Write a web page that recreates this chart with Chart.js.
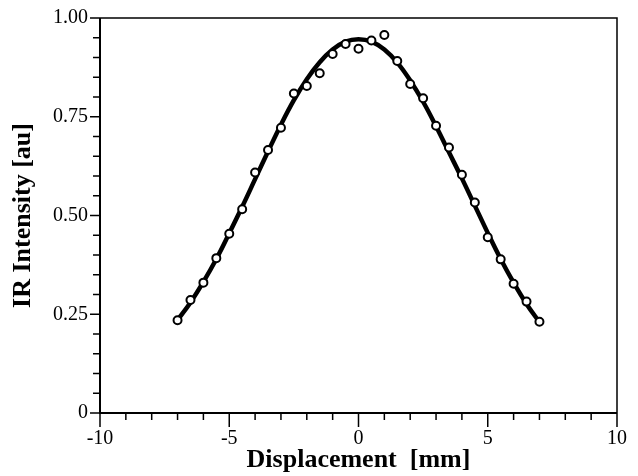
<!DOCTYPE html>
<html>
<head>
<meta charset="utf-8">
<script src="https://cdn.jsdelivr.net/npm/chart.js@4"></script>
<style>
  html, body { margin: 0; padding: 0; background: #fff; }
  canvas { display: block; }
</style>
</head>
<body>
<canvas id="chart" width="638" height="476"></canvas>
<script>
// measured points (open circles)
const displacement = [-7, -6.5, -6, -5.5, -5, -4.5, -4, -3.5, -3, -2.5, -2, -1.5, -1, -0.5, 0,
  0.5, 1, 1.5, 2, 2.5, 3, 3.5, 4, 4.5, 5, 5.5, 6, 6.5, 7];
const intensity = [0.235, 0.286, 0.330, 0.392, 0.454, 0.516, 0.609, 0.666, 0.722, 0.809, 0.828,
  0.860, 0.909, 0.934, 0.922, 0.943, 0.957, 0.891, 0.833, 0.797, 0.727, 0.672, 0.603, 0.533,
  0.445, 0.389, 0.327, 0.282, 0.231];

// fitted curve (thick line)
const fitX = displacement;
const fitY = [0.235, 0.280, 0.332, 0.390, 0.455, 0.522, 0.592, 0.662, 0.730, 0.792, 0.845,
  0.888, 0.920, 0.940, 0.946, 0.940, 0.920, 0.887, 0.842, 0.788, 0.726, 0.660, 0.594, 0.525,
  0.456, 0.390, 0.330, 0.276, 0.230];

const xTicks = [-10, -5, 0, 5, 10];
const yTicks = [0, 0.25, 0.5, 0.75, 1.0];

const points = displacement.map((x, i) => ({ x: x, y: intensity[i] }));
const fit = fitX.map((x, i) => ({ x: x, y: fitY[i] }));

// ticks outward + top/right frame
const frameTicks = {
  id: "frameTicks",
  afterDraw(chart) {
    const ctx = chart.ctx;
    const a = chart.chartArea;
    const xs = chart.scales.x;
    const ys = chart.scales.y;
    ctx.save();
    ctx.strokeStyle = "#000";
    ctx.lineWidth = 1.5;
    ctx.beginPath();
    ctx.moveTo(a.left, a.top);
    ctx.lineTo(a.right, a.top);
    ctx.lineTo(a.right, a.bottom);
    ctx.stroke();
    ctx.lineWidth = 2;
    ctx.beginPath();
    ctx.moveTo(a.left, a.top);
    ctx.lineTo(a.left, a.bottom);
    ctx.lineTo(a.right, a.bottom);
    ctx.stroke();
    ctx.lineWidth = 1.5;
    ctx.beginPath();
    xs.ticks.forEach(t => {
      const px = xs.getPixelForValue(t.value);
      const len = xTicks.includes(t.value) ? 14 : 7;
      ctx.moveTo(px, a.bottom);
      ctx.lineTo(px, a.bottom + len);
    });
    ys.ticks.forEach(t => {
      const py = ys.getPixelForValue(t.value);
      const major = yTicks.some(v => Math.abs(v - t.value) < 1e-6);
      ctx.moveTo(a.left, py);
      ctx.lineTo(a.left - (major ? 10 : 7), py);
    });
    ctx.stroke();
    ctx.restore();
  }
};

new Chart(document.getElementById("chart").getContext("2d"), {
  type: "scatter",
  data: {
    datasets: [
      {
        label: "data",
        data: points,
        showLine: false,
        pointRadius: 4,
        pointBorderWidth: 2,
        pointBackgroundColor: "#fff",
        pointBorderColor: "#000",
      },
      {
        label: "fit",
        data: fit,
        showLine: true,
        borderColor: "#000",
        borderWidth: 4.5,
        tension: 0.4,
        pointRadius: 0,
      },
    ],
  },
  plugins: [frameTicks],
  options: {
    responsive: false,
    animation: false,
    layout: { padding: { top: 18, right: 21, left: 0, bottom: 0 } },
    plugins: { legend: { display: false }, tooltip: { enabled: false } },
    scales: {
      x: {
        type: "linear",
        min: -10,
        max: 10,
        afterFit: s => { s.height = 63; s.paddingLeft = 0; s.paddingRight = 0; },
        border: { display: false },
        grid: { display: false, drawTicks: false },
        ticks: {
          stepSize: 1,
          autoSkip: false,
          padding: 14,
          maxRotation: 0,
          color: "#000",
          font: { family: "Liberation Serif", size: 20 },
          callback: v => (xTicks.includes(v) ? String(v) : ""),
        },
        title: {
          display: true,
          text: "Displacement  [mm]",
          color: "#000",
          padding: { top: 0, bottom: 0 },
          font: { family: "Liberation Serif", size: 26, weight: "bold" },
        },
      },
      y: {
        type: "linear",
        min: 0,
        max: 1,
        afterFit: s => { s.width = 100; s.paddingTop = 0; s.paddingBottom = 0; },
        border: { display: false },
        grid: { display: false, drawTicks: false },
        ticks: {
          stepSize: 0.05,
          autoSkip: false,
          padding: 12,
          color: "#000",
          font: { family: "Liberation Serif", size: 20 },
          callback: v => {
            const hit = yTicks.find(t => Math.abs(t - v) < 1e-6);
            if (hit === undefined) return "";
            return hit === 0 ? "0" : hit.toFixed(2);
          },
        },
        title: {
          display: true,
          text: "IR Intensity [au]",
          color: "#000",
          padding: { top: 8, bottom: 0 },
          font: { family: "Liberation Serif", size: 26, weight: "bold" },
        },
      },
    },
  },
});
</script>
</body>
</html>
